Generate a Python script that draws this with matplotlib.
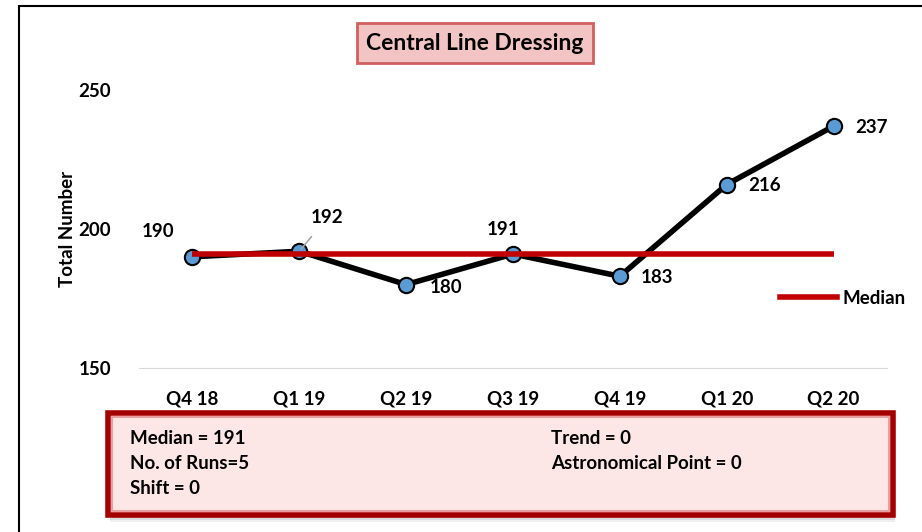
import matplotlib
matplotlib.use("Agg")
import matplotlib.pyplot as plt
from matplotlib.patches import Rectangle
from matplotlib.lines import Line2D

plt.rcParams["font.family"] = ["Lato", "DejaVu Sans"]
plt.rcParams["font.weight"] = "bold"

quarters = ["Q4 18", "Q1 19", "Q2 19", "Q3 19", "Q4 19", "Q1 20", "Q2 20"]
totals = [190, 192, 180, 191, 183, 216, 237]
median = 191
stats_left = ["Median = 191", "No. of Runs=5", "Shift = 0"]
stats_right = ["Trend = 0", "Astronomical Point = 0"]

# label offsets in points (dx, dy) per data point
label_off = [(-25, 18), (20, 24), (29, -2), (-7, 18), (27, -1), (27, -1), (27, -1)]

W, H = 922, 532
FS = 13.5
fig = plt.figure(figsize=(W / 100, H / 100), dpi=100)

# outer frame
fig.patches.append(Rectangle((19 / W, -0.1), 1.2, 1.1 - 6 / H, transform=fig.transFigure,
                             fill=False, ec="black", lw=1.5))

ax = fig.add_axes([139 / W, 1 - 368 / H, (887 - 139) / W, (368 - 90) / H])
x = range(len(quarters))
ax.plot(x, [median] * len(quarters), color="#C00000", lw=4, solid_capstyle="butt", zorder=3)
ax.plot(x, totals, color="black", lw=4, marker="o", ms=11, mfc="#5B9BD5", mec="black",
        mew=1.5, zorder=2)

for i, (v, (dx, dy)) in enumerate(zip(totals, label_off)):
    arrow = None
    if i == 1:
        arrow = dict(arrowstyle="-", color="#A6A6A6", lw=1.2, shrinkA=7, shrinkB=2)
    ax.annotate(str(v), (i, v), xytext=(dx, dy), textcoords="offset points",
                ha="center", va="center", fontsize=FS, fontweight="bold",
                arrowprops=arrow)

ax.set_xlim(-0.5, len(quarters) - 0.5)
ax.set_ylim(150, 250)
ax.set_yticks([150, 200, 250])
ax.set_xticks(list(x))
ax.set_xticklabels(quarters)
ax.tick_params(length=0, labelsize=FS, pad=16)
ax.tick_params(axis="y", pad=20)
for lab in ax.get_xticklabels() + ax.get_yticklabels():
    lab.set_fontweight("bold")
for s in ["top", "right", "left"]:
    ax.spines[s].set_visible(False)
ax.spines["bottom"].set_color("#D9D9D9")
ax.set_ylabel("Total Number", fontsize=FS, fontweight="bold", labelpad=2)

leg = ax.legend([Line2D([], [], color="#C00000", lw=4)], ["Median"], loc="center left",
                bbox_to_anchor=(0.835, 0.25), frameon=False, fontsize=FS,
                handlelength=3.0, handletextpad=0.3)
for t in leg.get_texts():
    t.set_fontweight("bold")

# title box
fig.text(475 / W, 1 - 43 / H, "Central Line Dressing", ha="center", va="center",
         fontsize=16.5, fontweight="bold",
         bbox=dict(boxstyle="square,pad=0.4", fc="#F2C4C4", ec="#D06060", lw=2))

# stats box with shadow and bevelled edge
bx0, by0, bx1, by1 = 108, 413, 893, 515
for k, a in enumerate([0.10, 0.08, 0.06]):
    off = 3 + 2 * k
    fig.patches.append(Rectangle(((bx0 + 2) / W, 1 - (by1 + off) / H), (bx1 - bx0) / W,
                                 (by1 - by0) / H, transform=fig.transFigure,
                                 fc="black", ec="none", alpha=a, zorder=0))
fig.patches.append(Rectangle((bx0 / W, 1 - by1 / H), (bx1 - bx0) / W, (by1 - by0) / H,
                             transform=fig.transFigure, fc="#FDE6E6", ec="#A50000",
                             lw=4, zorder=1))
fig.patches.append(Rectangle(((bx0 + 4) / W, 1 - (by1 - 4) / H), (bx1 - bx0 - 8) / W,
                             (by1 - by0 - 8) / H, transform=fig.transFigure, fill=False,
                             ec="#E8A0A0", lw=1.5, zorder=1))

for j, s in enumerate(stats_left):
    fig.text(130 / W, 1 - (438 + 25.5 * j) / H, s, ha="left", va="center", fontsize=FS,
             fontweight="bold", zorder=2)
for j, s in enumerate(stats_right):
    fig.text(551 / W, 1 - (438 + 25.5 * j) / H, s, ha="left", va="center", fontsize=FS,
             fontweight="bold", zorder=2)

fig.savefig("out.png", dpi=100)
